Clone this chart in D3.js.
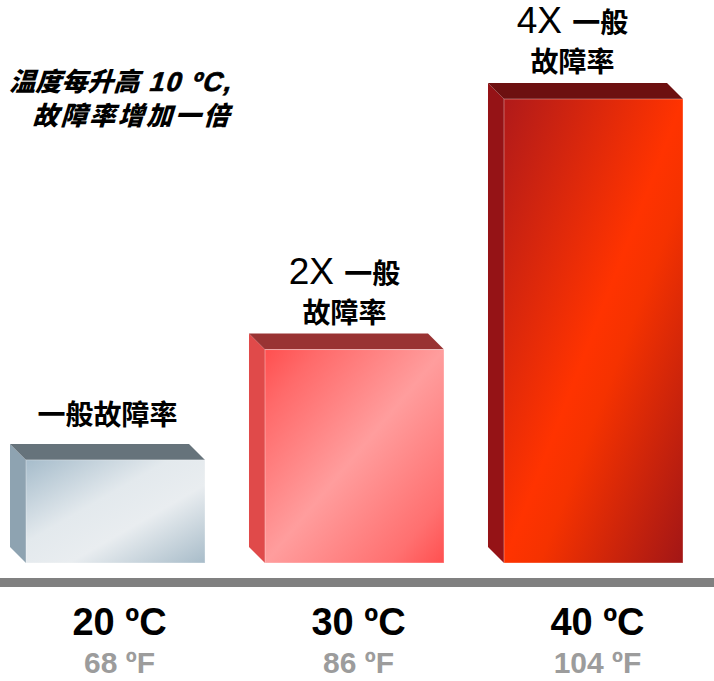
<!DOCTYPE html>
<html>
<head>
<meta charset="utf-8">
<script src="https://cdn.jsdelivr.net/npm/d3@7"></script>
<style>
  html, body { margin: 0; padding: 0; background: #ffffff; }
  svg { display: block; }
</style>
</head>
<body>
<svg id="chart" width="714" height="681"></svg>
<script>
// ---------------- data ----------------
const categories   = ["20 ºC", "30 ºC", "40 ºC"];
const fahrenheit   = ["68 ºF", "86 ºF", "104 ºF"];
const barHeights   = [1, 2.07, 4.5];          // relative bar heights as drawn
const multLabels   = ["", "2X ", "4X "];
const labelLine1   = ["一般故障率", "一般", "一般"];
const labelLine2   = ["", "故障率", "故障率"];
const titleLine1a  = "温度每升高";
const titleLine1b  = " 10 ºC,";
const titleLine2   = "故障率增加一倍";

// ---------------- styles ----------------
const frontStops = [
  [[0, "#a6bccb"], [0.4, "#e3e9ed"], [0.62, "#e9edf0"], [1, "#a8bcc9"]],
  [[0, "#ff4f4f"], [0.15, "#ff6a6a"], [0.5, "#ff9d9d"], [0.85, "#ff7070"], [1, "#ff5050"]],
  [[0, "#b01a1a"], [0.5, "#ff3300"], [0.6, "#f53200"], [1, "#a21616"]]
];
const sideColors = ["#8ea3b1", "#e04a4a", "#951316"];
const topColors  = ["#66737b", "#993333", "#6d1010"];
const labelShift = [0, -2, -13];
const LATIN = "'Liberation Sans', Arial, 'Noto Sans CJK SC', sans-serif";
const CJK   = "'Noto Sans CJK SC', 'Liberation Sans', sans-serif";

const svg = d3.select("#chart");
const W = 714;
const baseY = 563;
const depth = 16;

const x = d3.scaleBand().domain(categories).range([26, 683]).paddingInner(0.251).paddingOuter(0);
const y = d3.scaleLinear().domain([0, 4.5]).range([baseY, 99]);
const bw = x.bandwidth();

// gradients
const defs = svg.append("defs");
frontStops.forEach((stops, i) => {
  const g = defs.append("linearGradient").attr("id", "front" + i)
    .attr("x1", 0).attr("y1", 0).attr("x2", 1).attr("y2", 1);
  stops.forEach(s => g.append("stop").attr("offset", s[0]).attr("stop-color", s[1]));
});

const bars = svg.append("g").selectAll("g").data(categories).join("g");

// side face
bars.append("path")
  .attr("d", (c, i) => {
    const x0 = x(c), t = y(barHeights[i]);
    return `M${x0 - depth},${t - depth}L${x0},${t}L${x0},${baseY}L${x0 - depth},${baseY - depth}Z`;
  })
  .attr("fill", (c, i) => sideColors[i]);

// top face
bars.append("path")
  .attr("d", (c, i) => {
    const x0 = x(c), t = y(barHeights[i]);
    return `M${x0 - depth},${t - depth}L${x0 + bw - depth},${t - depth}L${x0 + bw},${t}L${x0},${t}Z`;
  })
  .attr("fill", (c, i) => topColors[i]);

// front face
bars.append("rect")
  .attr("x", c => x(c))
  .attr("y", (c, i) => y(barHeights[i]))
  .attr("width", bw)
  .attr("height", (c, i) => baseY - y(barHeights[i]))
  .attr("fill", (c, i) => `url(#front${i})`)
  .attr("stroke", "rgba(255,255,255,0.35)")
  .attr("stroke-width", 1);

// labels above bars
bars.each(function (c, i) {
  const g = d3.select(this);
  const cx = x(c) + bw / 2 - depth / 2 + labelShift[i];
  const backTop = y(barHeights[i]) - depth;
  if (labelLine2[i] === "") {
    g.append("text")
      .attr("x", cx).attr("y", backTop - 19)
      .attr("text-anchor", "middle")
      .style("font-family", CJK).style("font-weight", "bold").style("font-size", "28px")
      .attr("fill", "#000")
      .text(labelLine1[i]);
  } else {
    const t1 = g.append("text")
      .attr("x", cx).attr("y", backTop - 50)
      .attr("text-anchor", "middle")
      .attr("fill", "#000");
    t1.append("tspan")
      .style("font-family", LATIN).style("font-weight", "normal").style("font-size", "37px")
      .text(multLabels[i]);
    t1.append("tspan")
      .style("font-family", CJK).style("font-weight", "bold").style("font-size", "28px")
      .text(labelLine1[i]);
    g.append("text")
      .attr("x", cx).attr("y", backTop - 11)
      .attr("text-anchor", "middle")
      .style("font-family", CJK).style("font-weight", "bold").style("font-size", "28px")
      .attr("fill", "#000")
      .text(labelLine2[i]);
  }
});

// baseline bar
svg.append("rect").attr("x", 0).attr("y", 578).attr("width", W).attr("height", 9).attr("fill", "#808080");

// category labels
svg.append("g").selectAll("text").data(categories).join("text")
  .attr("x", c => x(c) + bw / 2 + 4)
  .attr("y", 635)
  .attr("text-anchor", "middle")
  .style("font-family", LATIN).style("font-weight", "bold").style("font-size", "38px")
  .attr("fill", "#000")
  .text(c => c);

svg.append("g").selectAll("text").data(fahrenheit).join("text")
  .attr("x", (f, i) => x(categories[i]) + bw / 2 + 4)
  .attr("y", 673)
  .attr("text-anchor", "middle")
  .style("font-family", LATIN).style("font-weight", "bold").style("font-size", "30px")
  .attr("fill", "#9c9c9c")
  .text(f => f);

// title note (slanted)
const tl1 = svg.append("text").attr("transform", "translate(9,91) skewX(-17)")
  .style("font-weight", "900").attr("fill", "#000");
tl1.append("tspan").style("font-family", CJK).style("font-size", "26px").text(titleLine1a);
tl1.append("tspan").style("font-family", LATIN).style("font-weight", "bold").style("font-size", "27px")
  .style("letter-spacing", "1.5px")
  .attr("stroke", "#000").attr("stroke-width", 0.7)
  .text(titleLine1b);

svg.append("text").attr("transform", "translate(32,125) skewX(-17)")
  .style("font-weight", "900")
  .style("font-family", CJK).style("font-size", "26px").style("letter-spacing", "2.5px")
  .attr("fill", "#000")
  .text(titleLine2);
</script>
</body>
</html>
